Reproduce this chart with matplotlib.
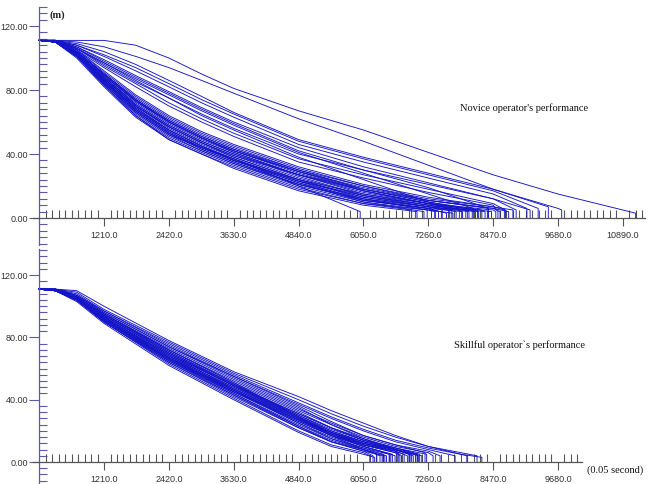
import matplotlib
matplotlib.use("Agg")
import matplotlib.pyplot as plt
from matplotlib.ticker import FixedLocator, FormatStrFormatter

# time grids (0.05 s) at which each trajectory's height (m) was read
novice_grid = [0, 300, 700, 1210, 1800, 2420, 3030, 3630, 4840, 6050, 7260, 8470, 9680, 10890]
skill_grid = [0, 300, 700, 1210, 2420, 3630, 4840, 5450, 6050, 6650, 7260, 7870]

# end time of each run; heights at grid points before the end, last value = height at end
novice_end = [5990, 6950, 7180, 7240, 7380, 7450, 7520, 7600, 7660, 7720, 7780,
              7840, 7900, 7960, 8020, 8080, 8140, 8200, 8260, 8320, 8380, 8440,
              8520, 8600, 8680, 8760, 8840, 7050, 7320, 8180,
              7700, 8100, 8380, 8700, 8900, 9100, 9160, 9310, 9500, 8560,
              9750, 11130]
novice_y = [
    [111, 110, 101, 84, 66, 52, 44, 37, 20, 4],
    [111, 110, 101, 83, 64, 50, 41, 33, 19, 9, 5],
    [111, 110, 102, 86, 68, 55, 45, 36, 22, 10, 4],
    [111, 110, 103, 87, 70, 57, 47, 38, 24, 12, 5],
    [111, 110, 101, 84, 65, 51, 42, 34, 20, 10, 5, 4],
    [111, 110, 102, 85, 67, 53, 43, 35, 21, 11, 6, 4],
    [111, 110, 103, 88, 71, 58, 48, 40, 26, 14, 7, 5],
    [111, 110, 102, 86, 68, 54, 44, 36, 22, 12, 6, 3],
    [111, 110, 104, 89, 73, 60, 50, 41, 27, 15, 8, 5],
    [111, 110, 101, 83, 64, 49, 40, 32, 18, 9, 5, 3],
    [111, 110, 103, 87, 70, 56, 46, 38, 24, 13, 7, 4],
    [111, 111, 104, 90, 74, 61, 51, 43, 29, 17, 9, 5],
    [111, 110, 102, 85, 67, 53, 43, 35, 21, 11, 6, 4],
    [111, 110, 103, 88, 72, 59, 49, 41, 27, 16, 9, 5],
    [111, 110, 102, 86, 69, 55, 45, 37, 23, 13, 7, 4],
    [111, 111, 104, 90, 75, 62, 52, 44, 30, 18, 10, 5],
    [111, 110, 103, 87, 70, 57, 47, 39, 25, 14, 8, 4],
    [111, 110, 101, 84, 66, 52, 42, 34, 21, 12, 7, 4],
    [111, 110, 104, 89, 73, 60, 50, 42, 29, 18, 10, 5],
    [111, 110, 102, 86, 68, 54, 44, 36, 23, 14, 8, 4],
    [111, 111, 105, 91, 76, 63, 53, 45, 31, 20, 11, 6],
    [111, 110, 103, 88, 71, 58, 48, 40, 27, 17, 9, 4],
    [111, 110, 102, 85, 67, 53, 44, 36, 24, 15, 9, 5, 4],
    [111, 110, 104, 89, 73, 60, 50, 42, 29, 19, 11, 6, 4],
    [111, 111, 105, 92, 77, 64, 54, 46, 32, 21, 13, 7, 5],
    [111, 110, 103, 87, 70, 57, 47, 39, 27, 18, 11, 6, 4],
    [111, 110, 104, 90, 74, 61, 51, 43, 30, 20, 12, 7, 5],
    [111, 110, 100, 82, 63, 49, 40, 31, 17, 8, 4],
    [111, 110, 102, 86, 69, 55, 45, 37, 23, 11, 6, 4],
    [111, 110, 104, 90, 74, 60, 50, 42, 28, 17, 9, 5],
    [111, 111, 106, 96, 85, 75, 64, 55, 38, 24, 10, 5],
    [111, 111, 106, 97, 87, 77, 67, 58, 41, 28, 15, 6],
    [111, 111, 107, 98, 88, 78, 68, 59, 42, 30, 19, 6],
    [111, 111, 106, 95, 84, 72, 62, 53, 37, 27, 18, 9, 5],
    [111, 111, 107, 99, 89, 79, 69, 60, 44, 32, 22, 12, 5],
    [111, 111, 108, 101, 92, 82, 72, 63, 46, 35, 25, 15, 6],
    [111, 111, 106, 97, 86, 75, 65, 56, 40, 30, 21, 12, 5],
    [111, 111, 108, 102, 94, 84, 74, 65, 48, 37, 27, 17, 6],
    [111, 111, 109, 104, 96, 86, 76, 66, 49, 38, 28, 18, 7],
    [111, 111, 105, 94, 82, 70, 60, 51, 35, 25, 16, 8, 4],
    [111, 111, 110, 107, 101, 94, 86, 78, 62, 48, 33, 18, 6, 5],
    [111, 111, 111, 111, 108, 100, 90, 81, 67, 55, 41, 27, 15, 5, 3],
]

skill_end = [6170, 6230, 6300, 6360, 6420, 6480, 6530, 6590, 6640, 6700, 6760,
             6810, 6870, 6920, 6980, 7030, 7080, 7100, 7140, 7230, 7350, 7480,
             7760, 7980, 8170, 8260, 6680, 6400, 6900, 7200,
             6260, 6450, 6560, 6730, 6950, 7060]
skill_y = [
    [111, 110, 104, 90, 63, 41, 20, 11, 6, 4],
    [111, 110, 104, 91, 65, 43, 22, 13, 7, 4],
    [111, 110, 105, 92, 66, 44, 23, 14, 8, 5],
    [111, 110, 104, 90, 64, 42, 22, 13, 8, 4],
    [111, 110, 105, 92, 67, 45, 25, 15, 8, 5],
    [111, 110, 105, 93, 68, 46, 25, 16, 9, 4],
    [111, 110, 104, 91, 65, 44, 24, 15, 9, 5],
    [111, 110, 105, 92, 67, 46, 26, 17, 10, 5],
    [111, 110, 105, 93, 69, 47, 27, 17, 10, 4],
    [111, 110, 104, 91, 66, 45, 26, 17, 11, 7, 5],
    [111, 110, 105, 93, 68, 48, 28, 18, 11, 7, 4],
    [111, 110, 105, 92, 67, 47, 28, 19, 12, 7, 5],
    [111, 110, 106, 94, 70, 49, 29, 19, 12, 7, 4],
    [111, 110, 104, 91, 66, 46, 27, 18, 12, 8, 5],
    [111, 110, 105, 93, 69, 49, 30, 20, 13, 8, 4],
    [111, 111, 106, 95, 71, 50, 30, 21, 14, 8, 5],
    [111, 110, 105, 92, 68, 48, 29, 20, 13, 8, 4],
    [111, 110, 106, 94, 70, 50, 31, 22, 14, 9, 5],
    [111, 110, 104, 90, 65, 45, 27, 19, 13, 8, 4],
    [111, 110, 105, 93, 69, 49, 31, 22, 15, 9, 5],
    [111, 110, 106, 95, 72, 52, 33, 24, 16, 10, 6, 4],
    [111, 111, 106, 95, 73, 53, 34, 25, 17, 11, 7, 4],
    [111, 111, 107, 96, 74, 55, 37, 28, 20, 13, 8, 4],
    [111, 111, 108, 97, 76, 56, 38, 29, 21, 14, 9, 5, 4],
    [111, 111, 109, 98, 77, 57, 40, 31, 23, 16, 10, 6, 4],
    [111, 111, 110, 100, 78, 58, 42, 33, 25, 17, 10, 5, 3],
    [111, 110, 106, 94, 71, 50, 29, 19, 11, 6, 4],
    [111, 110, 106, 95, 72, 51, 29, 17, 8, 4],
    [111, 111, 107, 96, 74, 54, 35, 24, 15, 8, 5],
    [111, 111, 107, 97, 75, 55, 36, 26, 17, 11, 6],
    [111, 110, 103, 89, 62, 40, 19, 10, 5, 3],
    [111, 110, 104, 90, 64, 43, 23, 13, 7, 4],
    [111, 110, 106, 94, 70, 49, 28, 18, 10, 5],
    [111, 110, 105, 92, 66, 46, 27, 18, 11, 6, 4],
    [111, 110, 104, 91, 67, 47, 28, 19, 12, 8, 5],
    [111, 110, 106, 95, 72, 51, 32, 22, 14, 9, 5],
]

major_x = [1210, 2420, 3630, 4840, 6050, 7260, 8470, 9680, 10890]
major_y = [0, 40, 80, 120]

line_col = "#1414c8"
axis_col = "#555555"
yaxis_col = "#5a5aa8"

fig = plt.figure(figsize=(6.51, 4.84), dpi=100)
ax1 = fig.add_axes([0, 236 / 484, 1, 248 / 484])
ax2 = fig.add_axes([0, 0, 1, 236 / 484])


def draw_panel(ax, grid, ends, ys, xmax, ylim, ybounds, xlabels):
    for end, y in zip(ends, ys):
        xs = grid[:len(y) - 1] + [end, end]
        ax.plot(xs, list(y) + [0], color=line_col, lw=0.65)

    ax.set_xlim(-731, 11416)
    ax.set_ylim(*ylim)
    for s in ["top", "right"]:
        ax.spines[s].set_visible(False)
    ax.spines["left"].set_position(("data", 0))
    ax.spines["bottom"].set_position(("data", 0))
    ax.spines["left"].set_color(yaxis_col)
    ax.spines["bottom"].set_color(axis_col)
    ax.spines["left"].set_bounds(*ybounds)
    ax.spines["bottom"].set_bounds(-120, xmax)
    ax.spines["left"].set_linewidth(0.9)
    ax.spines["bottom"].set_linewidth(0.9)

    ax.xaxis.set_major_locator(FixedLocator(xlabels))
    ax.xaxis.set_major_formatter(FormatStrFormatter("%.1f"))
    ax.xaxis.set_minor_locator(FixedLocator([121 * i for i in range(1, int(xmax / 121) + 1)]))
    ax.yaxis.set_major_locator(FixedLocator(major_y))
    ax.yaxis.set_major_formatter(FormatStrFormatter("%.2f"))
    ax.yaxis.set_minor_locator(FixedLocator([4 * i for i in range(int(ybounds[0] / 4), int(ybounds[1] / 4) + 1)]))

    ax.tick_params(axis="x", which="major", direction="out", length=6, width=0.8,
                   color=axis_col, labelsize=6.5, labelcolor="#333333", pad=3)
    ax.tick_params(axis="x", which="minor", direction="in", length=6, width=0.8, color=axis_col)
    ax.tick_params(axis="y", which="major", direction="out", length=7, width=0.8,
                   color=yaxis_col, labelsize=6.5, labelcolor="#333333", pad=1)
    ax.tick_params(axis="y", which="minor", direction="in", length=6, width=0.8, color=yaxis_col)
    for lab in ax.get_xticklabels() + ax.get_yticklabels():
        lab.set_fontfamily("Liberation Sans")


draw_panel(ax1, novice_grid, novice_end, novice_y, 11300, (-18.75, 136.25), (-17, 132), major_x)
draw_panel(ax2, skill_grid, skill_end, skill_y, 10130, (-14.1, 137.4), (-14, 137), major_x[:-1])

serif = "Liberation Serif"
fig.text(50 / 651, 1 - 15 / 484, "(m)", fontsize=7.5, family=serif, weight="bold",
         va="center", ha="left", color="#222222")
fig.text(524 / 651, 1 - 108 / 484, "Novice operator's performance", fontsize=7.5,
         family=serif, ha="center", va="center", color="#111111")
fig.text(519 / 651, 1 - 345 / 484, "Skillful operator`s performance", fontsize=7.5,
         family=serif, ha="center", va="center", color="#111111")
fig.text(587 / 651, 1 - 470 / 484, "(0.05 second)", fontsize=7.5, family=serif,
         ha="left", va="center", color="#111111")

fig.savefig("out.png", dpi=100)
